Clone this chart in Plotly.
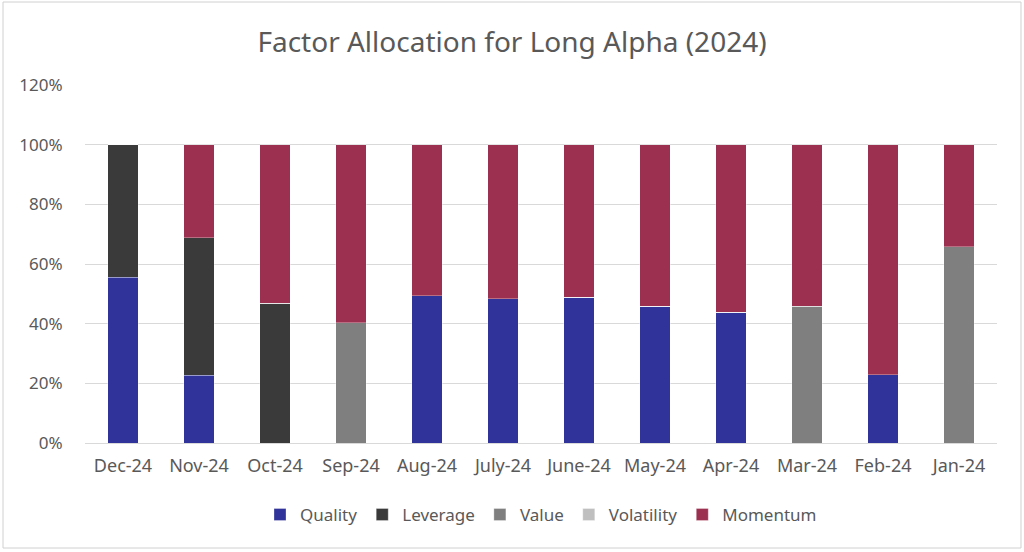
import plotly.graph_objects as go

# monthly factor allocation (percent)
months = ["Dec-24", "Nov-24", "Oct-24", "Sep-24", "Aug-24", "July-24",
          "June-24", "May-24", "Apr-24", "Mar-24", "Feb-24", "Jan-24"]
quality = [55.5, 22.7, 0, 0, 49.4, 48.4, 48.8, 45.8, 43.9, 0, 22.9, 0]
leverage = [44.5, 46.1, 46.8, 0, 0, 0, 0, 0, 0, 0, 0, 0]
value = [0, 0, 0, 40.3, 0, 0, 0, 0, 0, 45.9, 0, 65.8]
volatility = [0, 0, 0, 0, 0, 0, 0, 0, 0, 0, 0, 0]
momentum = [0, 31.2, 53.2, 59.7, 50.6, 51.6, 51.2, 54.2, 56.1, 54.1, 77.1, 34.2]

series = [
    ("Quality", quality, "#303399"),
    ("Leverage", leverage, "#3a3a3a"),
    ("Value", value, "#7f7f7f"),
    ("Volatility", volatility, "#bfbfbf"),
    ("Momentum", momentum, "#9c3050"),
]

fig = go.Figure()
for name, vals, col in series:
    fig.add_trace(go.Bar(
        x=months, y=[v / 100 for v in vals], name=name,
        marker=dict(color=col, line=dict(color="rgba(255,255,255,0.5)", width=0.6)),
    ))

txt = "#595959"
fig.update_layout(
    barmode="stack",
    bargap=0.6,
    width=1024, height=552,
    margin=dict(l=85, r=27, t=85, b=109),
    paper_bgcolor="white", plot_bgcolor="white",
    font=dict(family="Noto Sans", size=18, color=txt),
    title=dict(text="Factor Allocation for Long Alpha (2024)", x=0.5, xanchor="center",
               y=0.924, yanchor="middle", font=dict(size=28, color=txt)),
    legend=dict(orientation="h", x=0.5, xanchor="center", y=-0.201, yanchor="middle",
                font=dict(size=17, color=txt), traceorder="normal",
                itemwidth=30),
    showlegend=True,
)
fig.update_yaxes(range=[0, 1.2], dtick=0.2, tickformat=".0%", gridcolor="#d9d9d9",
                 zeroline=False, showline=False, ticks="outside", ticklen=18,
                 tickcolor="rgba(0,0,0,0)", tickfont=dict(size=17))
fig.update_xaxes(showline=True, linecolor="#d9d9d9", ticks="outside", ticklen=6,
                 tickcolor="rgba(0,0,0,0)", showgrid=False, tickfont=dict(size=18))

# thin frame round the whole chart
fig.add_shape(type="rect", xref="paper", yref="paper", x0=-0.0899, x1=1.0263, y0=-0.2933, y1=1.2318,
              line=dict(color="#d0d0d0", width=1), fillcolor="rgba(0,0,0,0)")

fig.write_html("out.html", config={"displayModeBar": False},
               post_script="document.body.style.margin='0';")
